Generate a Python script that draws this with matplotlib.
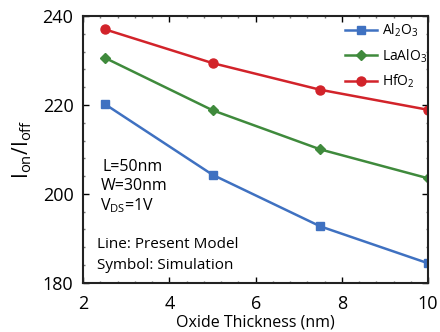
import matplotlib
matplotlib.use("Agg")
import matplotlib.pyplot as plt
from matplotlib.ticker import MultipleLocator

plt.rcParams['font.family'] = ['Open Sans', 'DejaVu Sans']
plt.rcParams['mathtext.fontset'] = 'custom'
plt.rcParams['mathtext.rm'] = 'Open Sans'
plt.rcParams['mathtext.it'] = 'Open Sans'

thickness = [2.5, 5, 7.5, 10]
al2o3 = [220.2, 204.3, 192.7, 184.4]
laalo3 = [230.6, 218.8, 210.0, 203.5]
hfo2 = [237.0, 229.4, 223.4, 218.9]

fig = plt.figure(figsize=(4.4, 3.32), dpi=100)
ax = fig.add_axes([0.189, 0.148, 0.784, 0.804])

ax.plot(thickness, al2o3, color='#3f71c1', lw=1.8, marker='s', ms=5.5, label='Al$_2$O$_3$')
ax.plot(thickness, laalo3, color='#3f8a3c', lw=1.8, marker='D', ms=5.5, label='LaAlO$_3$')
ax.plot(thickness, hfo2, color='#d2232a', lw=1.8, marker='o', ms=6.5, label='HfO$_2$')

ax.set_xlim(2, 10)
ax.set_ylim(180, 240)
ax.xaxis.set_major_locator(MultipleLocator(2))
ax.yaxis.set_major_locator(MultipleLocator(20))
ax.xaxis.set_minor_locator(MultipleLocator(0.4))
ax.yaxis.set_minor_locator(MultipleLocator(4))
ax.tick_params(which='both', direction='in', top=True, right=True, labelsize=13, width=1)
ax.tick_params(which='major', length=4)
ax.tick_params(axis='y', which='major', pad=7)
ax.tick_params(axis='x', which='major', pad=9)
ax.tick_params(which='minor', length=1.5, color='#777777')
for s in ax.spines.values():
    s.set_linewidth(1.5)
    s.set_color('#222222')

ax.set_xlabel('Oxide Thickness (nm)', fontsize=11.5, labelpad=1)
ax.set_ylabel('I$_{on}$/I$_{off}$', fontsize=15, labelpad=6)

ax.legend(loc='upper right', frameon=False, fontsize=10, handlelength=2.3,
          handletextpad=0.3, labelspacing=0.6, borderaxespad=0.2,
          bbox_to_anchor=(1.02, 1.01))

ax.text(0.055, 0.434, 'L=50nm', transform=ax.transAxes, fontsize=11.5, va='center')
ax.text(0.05, 0.363, 'W=30nm', transform=ax.transAxes, fontsize=11.5, va='center')
ax.text(0.05, 0.29, 'V$_{DS}$=1V', transform=ax.transAxes, fontsize=11.5, va='center')
ax.text(0.04, 0.142, 'Line: Present Model', transform=ax.transAxes, fontsize=11, va='center')
ax.text(0.04, 0.064, 'Symbol: Simulation', transform=ax.transAxes, fontsize=11, va='center')

fig.savefig('out.png', dpi=100)
